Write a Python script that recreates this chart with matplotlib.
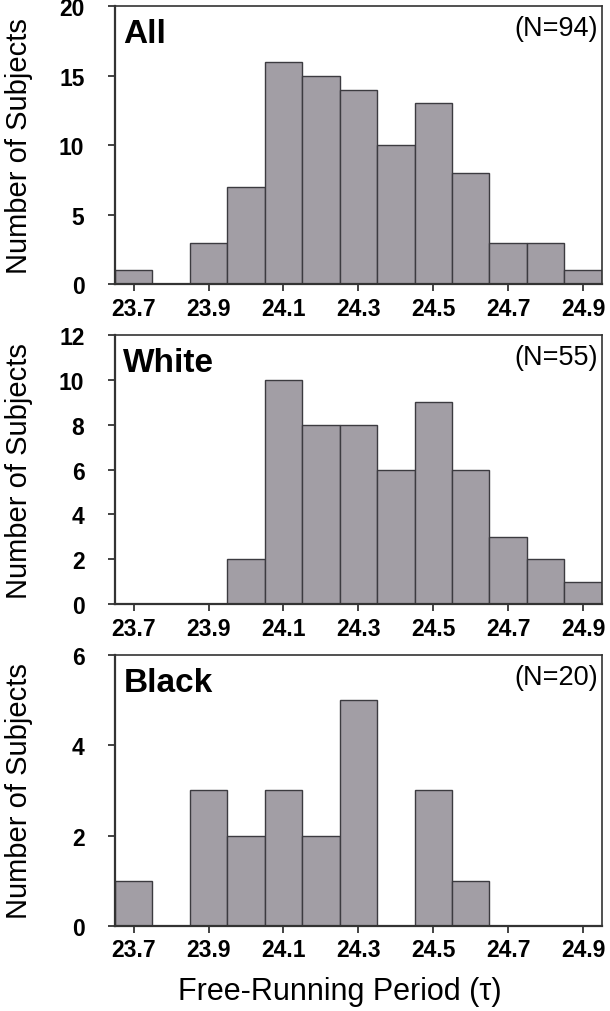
import numpy as np
import matplotlib.pyplot as plt

plt.rcParams['font.family'] = ['Liberation Sans', 'DejaVu Sans']

# bin centres (hours)
periods = [23.7, 23.8, 23.9, 24.0, 24.1, 24.2, 24.3, 24.4, 24.5, 24.6, 24.7, 24.8, 24.9]
tick_labels = ["23.7", "23.9", "24.1", "24.3", "24.5", "24.7", "24.9"]

all_counts = [1, 0, 3, 7, 16, 15, 14, 10, 13, 8, 3, 3, 1]
white_counts = [0, 0, 0, 2, 10, 8, 8, 6, 9, 6, 3, 2, 1]
black_counts = [1, 0, 3, 2, 3, 2, 5, 0, 3, 1, 0, 0, 0]

groups = ["All", "White", "Black"]
n_labels = ["(N=94)", "(N=55)", "(N=20)"]
y_max = [20, 12, 6]
y_step = [5, 2, 2]

BAR = "#a29ea5"
EDGE = "#3c3b40"

fig = plt.figure(figsize=(6.1, 10.12), dpi=100)
rects = [
    [0.1885, 0.718, 0.798, 0.275],
    [0.1885, 0.402, 0.798, 0.266],
    [0.1885, 0.084, 0.798, 0.268],
]

for i, counts in enumerate([all_counts, white_counts, black_counts]):
    ax = fig.add_axes(rects[i])
    ax.bar(periods, counts, width=0.1, color=BAR, edgecolor=EDGE, linewidth=1.0)
    ax.set_xlim(23.65, 24.95)
    ax.set_ylim(0, y_max[i])
    ax.set_yticks(np.arange(0, y_max[i] + 1, y_step[i]))
    ax.set_xticks([float(t) for t in tick_labels])
    ax.set_xticklabels(tick_labels)
    ax.tick_params(axis="both", direction="out", length=5, width=1.2,
                   labelsize=16.5, color="#222222")
    ax.tick_params(axis="y", pad=17)
    ax.tick_params(axis="x", pad=4)
    for lab in ax.get_xticklabels() + ax.get_yticklabels():
        lab.set_fontweight("bold")
    for sp in ax.spines.values():
        sp.set_linewidth(1.2)
        sp.set_color("#333333")
    ax.spines["bottom"].set_linewidth(1.6)
    ax.spines["left"].set_linewidth(1.6)
    ax.set_ylabel("Number of Subjects", fontsize=21)
    ax.yaxis.set_label_coords(-0.168, 0.5)
    ax.annotate(groups[i], xy=(0, 1), xycoords="axes fraction",
                xytext=(6, -26), textcoords="offset points",
                fontsize=24, fontweight="bold", ha="left", va="baseline")
    ax.annotate(n_labels[i], xy=(1, 1), xycoords="axes fraction",
                xytext=(-3, -21), textcoords="offset points",
                fontsize=19.5, ha="right", va="baseline")

fig.text(0.557, 0.005, "Free-Running Period (\u03c4)", fontsize=22,
         ha="center", va="bottom")

fig.savefig("out.png", dpi=100)
